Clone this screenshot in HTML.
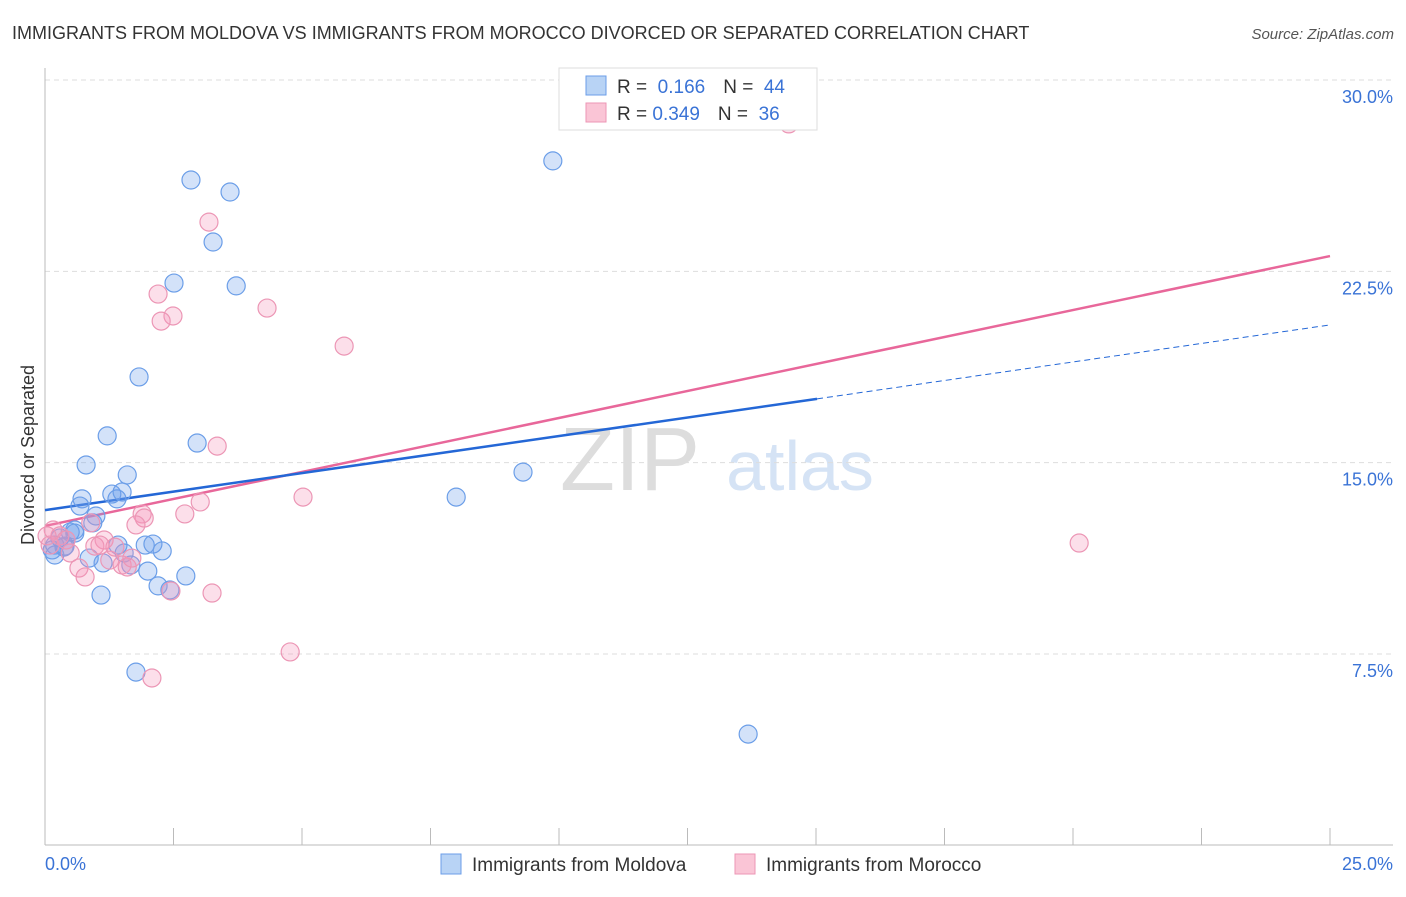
<!DOCTYPE html>
<html><head><meta charset="utf-8"><style>
body{margin:0;background:#fff;font-family:"Liberation Sans",sans-serif;}
svg text{font-family:"Liberation Sans",sans-serif;}
</style></head><body>
<svg id="c" width="1406" height="892" xmlns="http://www.w3.org/2000/svg">
<text x="12" y="39" font-size="18" fill="#333">IMMIGRANTS FROM MOLDOVA VS IMMIGRANTS FROM MOROCCO DIVORCED OR SEPARATED CORRELATION CHART</text>
<text x="1394" y="39" font-size="15" fill="#555" text-anchor="end" font-style="italic">Source: ZipAtlas.com</text>
<text x="630" y="490" font-size="90" fill="#ddd" text-anchor="middle" font-family="Liberation Serif">ZIP</text>
<text x="800" y="490" font-size="70" fill="#d5e3f5" text-anchor="middle">atlas</text>
<text transform="translate(34,455) rotate(-90)" font-size="18" fill="#333" text-anchor="middle">Divorced or Separated</text>
<g id="grid"></g><g id="axes"></g><g id="trend"></g><g id="pts"></g>
<g>
<rect x="559" y="68" width="258" height="62" fill="#fff" stroke="#ddd"/>
<rect x="586" y="76" width="20" height="19" fill="#b8d3f5" stroke="#6b9ee8"/>
<rect x="586" y="103" width="20" height="19" fill="#fac5d6" stroke="#ec96b5"/>
<text x="617" y="93" font-size="19" fill="#333">R = <tspan fill="#3a73d6">&#160;0.166</tspan><tspan dx="18">N = </tspan><tspan fill="#3a73d6">&#160;44</tspan></text>
<text x="617" y="120" font-size="19" fill="#333">R = <tspan fill="#3a73d6">0.349</tspan><tspan dx="18">N = </tspan><tspan fill="#3a73d6">&#160;36</tspan></text>
</g>
<g>
<rect x="441" y="854" width="20" height="20" fill="#b8d3f5" stroke="#6b9ee8"/>
<text x="472" y="871" font-size="19" fill="#333">Immigrants from Moldova</text>
<rect x="735" y="854" width="20" height="20" fill="#fac5d6" stroke="#ec96b5"/>
<text x="766" y="871" font-size="19" fill="#333">Immigrants from Morocco</text>
</g>
</svg>
<script>
const yTicks=[7.5,15,22.5,30];
const yTickLabels=["7.5%","15.0%","22.5%","30.0%"];
const xTicks=[0,2.5,5,7.5,10,12.5,15,17.5,20,22.5,25];
const moldovaX=[2.84,3.60,3.27,2.51,3.72,9.88,1.83,1.21,2.96,0.80,1.60,9.30,8.00,0.72,0.68,1.30,1.40,1.50,0.99,0.93,0.58,0.49,0.29,0.19,0.14,0.37,0.19,0.39,0.86,1.13,1.42,1.67,1.54,1.95,2.10,2.28,2.00,2.20,2.43,2.74,1.09,1.77,13.68,0.58];
const moldovaY=[26.08,25.61,23.65,22.04,21.93,26.83,18.36,16.05,15.77,14.91,14.52,14.63,13.65,13.58,13.30,13.77,13.58,13.85,12.91,12.64,12.36,12.28,12.05,11.77,11.58,11.69,11.38,11.73,11.26,11.07,11.77,10.99,11.46,11.77,11.81,11.54,10.75,10.17,10.01,10.56,9.81,6.79,4.36,12.24];
const moroccoX=[14.47,3.19,2.20,2.49,2.26,4.32,5.82,3.35,5.02,3.02,2.72,1.89,1.93,1.77,0.89,20.12,1.15,0.97,0.16,0.10,0.49,0.66,0.78,1.26,1.50,1.60,1.69,1.36,3.25,2.45,4.77,2.08,0.29,0.41,0.04,1.07];
const moroccoY=[28.28,24.43,21.61,20.75,20.55,21.06,19.57,15.65,13.65,13.46,12.99,12.99,12.83,12.56,12.64,11.85,11.97,11.73,12.36,11.77,11.46,10.87,10.52,11.18,10.99,10.91,11.26,11.69,9.89,9.97,7.58,6.56,12.13,11.97,12.13,11.77];
const moldovaTrend=[13.14,20.40]; // value at x=0 and x=25
const moldovaSolidEnd=15.02;
const moroccoTrend=[12.52,23.1];
const NS="http://www.w3.org/2000/svg";
const X=v=>45+v*51.4;
const Y=v=>654-(v-7.5)*25.51;
function mk(p,t,a){const e=document.createElementNS(NS,t);for(const k in a)e.setAttribute(k,a[k]);document.getElementById(p).appendChild(e);return e;}
yTicks.forEach((t,i)=>{
 const g=mk('grid','line',{x1:45,x2:1393,y1:Y(t),y2:Y(t),stroke:'#ddd','stroke-dasharray':'5,4'});
 
 
 const l=mk('grid','text',{x:1393,y:Y(t)+23,'font-size':18,fill:'#3a73d6','text-anchor':'end'});
 l.textContent=yTickLabels[i];
 
 
});
const ax=mk('axes','line',{x1:45,x2:1393,y1:845,y2:845,stroke:'#bbb'});


const ay=mk('axes','line',{x1:45,x2:45,y1:68,y2:845,stroke:'#bbb'});


xTicks.forEach(t=>{const e=mk('axes','line',{x1:X(t),x2:X(t),y1:828,y2:845,stroke:'#bbb'});
 
 });
const x0=mk('axes','text',{x:45,y:870,'font-size':18,fill:'#3a73d6'});x0.textContent='0.0%';


const x1=mk('axes','text',{x:1393,y:870,'font-size':18,fill:'#3a73d6','text-anchor':'end'});x1.textContent='25.0%';


function ty(tr,x){return tr[0]+(tr[1]-tr[0])*x/25;}
let e=mk('trend','line',{x1:X(0),y1:Y(ty(moroccoTrend,0)),x2:X(25),y2:Y(ty(moroccoTrend,25)),stroke:'#e8679a','stroke-width':2.5});


e=mk('trend','line',{x1:X(0),y1:Y(ty(moldovaTrend,0)),x2:X(moldovaSolidEnd),y2:Y(ty(moldovaTrend,moldovaSolidEnd)),stroke:'#2467d6','stroke-width':2.5});


e=mk('trend','line',{x1:X(moldovaSolidEnd),y1:Y(ty(moldovaTrend,moldovaSolidEnd)),x2:X(25),y2:Y(ty(moldovaTrend,25)),stroke:'#2467d6','stroke-width':1,'stroke-dasharray':'6,4'});


moldovaX.forEach((v,i)=>{const c=mk('pts','circle',{cx:X(v),cy:Y(moldovaY[i]),r:9,fill:'rgba(110,160,235,0.3)',stroke:'#6b9ee8','stroke-width':1.2});
 
 });
moroccoX.forEach((v,i)=>{const c=mk('pts','circle',{cx:X(v),cy:Y(moroccoY[i]),r:9,fill:'rgba(245,150,185,0.3)',stroke:'#ec96b5','stroke-width':1.2});
 
 });
</script>
</body></html>
